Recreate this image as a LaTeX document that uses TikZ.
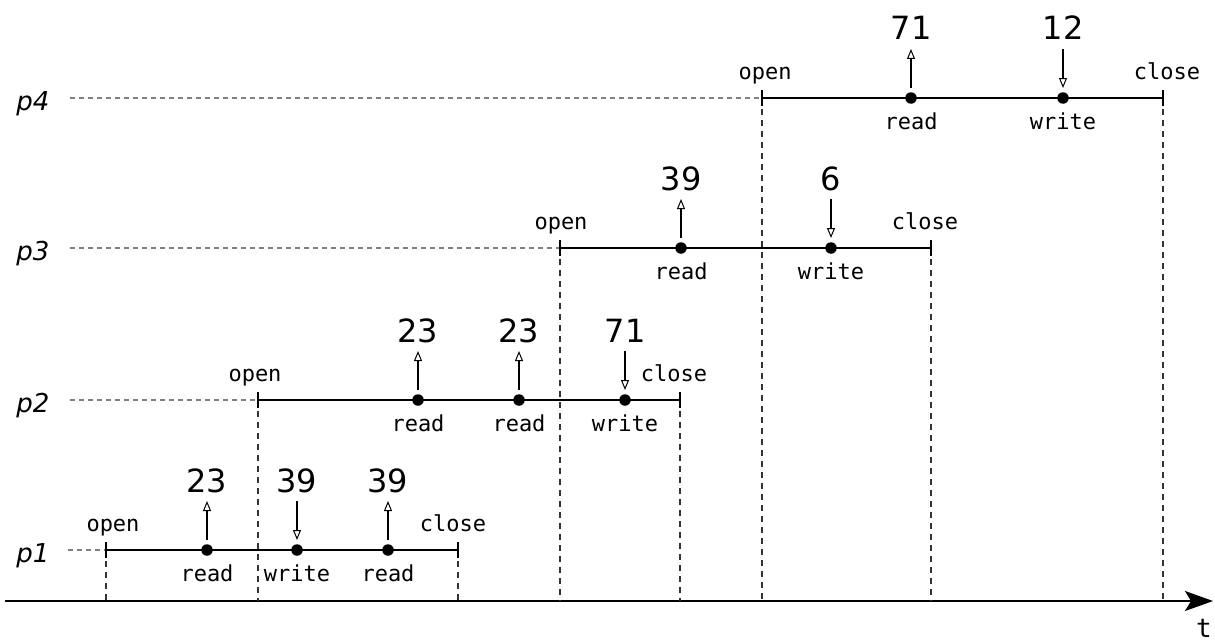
\documentclass[tikz,border=0pt]{standalone}
\usepackage{fontspec}
\setmainfont{DejaVu Sans}
\setmonofont{DejaVu Sans Mono}
\usetikzlibrary{arrows.meta}
\begin{document}
\begin{tikzpicture}[x=1pt,y=-1pt,
  proc/.style={line width=2.6pt},
  guide/.style={draw=gray, line width=1.3pt, dash pattern=on 5pt off 4pt},
  drop/.style={draw=black!80, line width=1.1pt, dash pattern=on 6pt off 5pt},
  tick/.style={line width=1.8pt},
  lbl/.style={font=\fontsize{22}{22}\selectfont\ttfamily, inner sep=0pt, anchor=base},
  num/.style={font=\fontsize{32}{32}\selectfont, inner sep=0pt, anchor=base},
  pname/.style={font=\fontsize{26}{26}\selectfont\itshape, inner sep=0pt, anchor=base},
  ev/.style={circle, fill=black, inner sep=0pt, minimum size=11.5pt},
  flow/.style={line width=1.1pt, -{Triangle[open,length=10pt,width=8pt,line width=1pt]}},
  axis/.style={line width=2pt, -{Stealth[length=28pt,width=20pt,inset=6pt]}}
]
\useasboundingbox (0,0) rectangle (1215,642);

% axis
\coordinate (ax0) at (5,601);
\coordinate (ax1) at (1213,601);
\draw[axis] (ax0) -- (ax1);
\node[font=\fontsize{26}{26}\selectfont\ttfamily, inner sep=0pt, anchor=base] (tl) at (1204,637) {t};

% process rows: name, y, start, end, guide start, open label x, close label x
\foreach \p/\y/\s/\e/\g/\ox/\cx in {p1/550/106/458/68/113/453, p2/400/258/680/70/255/674, p3/248/560/931/70/561/925, p4/98/762/1163/70/765/1167}{
  \coordinate (\p g) at (\g,\y);
  \coordinate (\p s) at (\s,\y);
  \coordinate (\p e) at (\e,\y);
  \coordinate (\p sa) at (\s,601);
  \coordinate (\p ea) at (\e,601);
  \coordinate (\p st) at (\s,\y-8);
  \coordinate (\p sb) at (\s,\y+8);
  \coordinate (\p et) at (\e,\y-8);
  \coordinate (\p eb) at (\e,\y+8);
  \node[pname] (\p name) at (33,\y+12) {\p};
  \draw[guide] (\p g) -- (\p s);
  \draw[drop] (\p s) -- (\p sa);
  \draw[drop] (\p e) -- (\p ea);
  \draw[proc] (\p s) -- (\p e);
  \draw[tick] (\p st) -- (\p sb);
  \draw[tick] (\p et) -- (\p eb);
  \node[lbl] (\p open) at (\ox,\y-19) {open};
  \node[lbl] (\p close) at (\cx,\y-19) {close};
}

% events: name, x, y, label, direction (1 = up, 0 = down), value
\foreach \n/\x/\y/\t/\dir/\v in {
  a1/207/550/read/1/23, a2/297/550/write/0/39, a3/388/550/read/1/39,
  b1/418/400/read/1/23, b2/519/400/read/1/23, b3/625/400/write/0/71,
  c1/681/248/read/1/39, c2/831/248/write/0/6,
  d1/911/98/read/1/71, d2/1063/98/write/0/12}{
  \node[ev] (\n) at (\x,\y) {};
  \coordinate (\n lo) at (\x,\y-10);
  \coordinate (\n hi) at (\x,\y-49);
  \node[lbl] (\n lab) at (\x,\y+31) {\t};
  \node[num] (\n val) at (\x,\y-58) {\v};
  \ifnum\dir=1
    \draw[flow] (\n lo) -- (\n hi);
  \else
    \draw[flow] (\n hi) -- (\n lo);
  \fi
}
\end{tikzpicture}
\end{document}
